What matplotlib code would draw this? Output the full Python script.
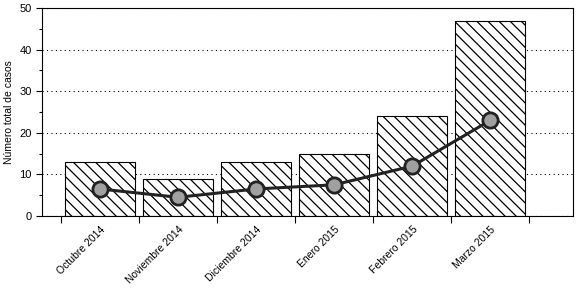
import matplotlib
matplotlib.use("Agg")
import matplotlib.pyplot as plt
import numpy as np

# data
months = ["Octubre 2014", "Noviembre 2014", "Diciembre 2014",
          "Enero 2015", "Febrero 2015", "Marzo 2015"]
total_cases = [13, 9, 13, 15, 24, 47]
line_values = [6.5, 4.5, 6.5, 7.5, 12, 23]

plt.rcParams["font.family"] = ["Liberation Sans", "DejaVu Sans"]
plt.rcParams["hatch.linewidth"] = 0.9

fig = plt.figure(figsize=(5.76, 2.88), dpi=100)
ax = fig.add_axes([0.073, 0.25, 0.922, 0.722])

x = np.arange(len(months))
ax.bar(x, total_cases, width=0.9, color="white", edgecolor="black",
       linewidth=0.8, hatch="\\\\\\", zorder=2)
ax.plot(x, line_values, color="#222222", linewidth=2.2, marker="o",
        markersize=11, markerfacecolor="#a0a0a0", markeredgecolor="#222222",
        markeredgewidth=2, zorder=3)

ax.set_ylim(0, 50)
ax.set_xlim(-0.74, 6.06)
ax.set_yticks([0, 10, 20, 30, 40, 50])
ax.set_yticks(np.arange(5, 50, 10), minor=True)
ax.yaxis.grid(True, linestyle=(0, (1, 3)), color="black", linewidth=0.8, zorder=0)
ax.set_axisbelow(True)

# ticks sit between the bars, labels under the bar centres
ax.set_xticks(np.arange(-0.5, 6, 1))
ax.set_xticklabels([])
ax.set_xticks(x, minor=True)
ax.set_xticklabels(months, minor=True, rotation=45, ha="right",
                   rotation_mode="anchor", fontsize=7.5)
ax.tick_params(axis="x", which="minor", length=0, pad=6)
ax.tick_params(axis="x", which="major", length=5, width=0.8)
ax.tick_params(axis="y", which="major", length=4, width=0.8, labelsize=8)
ax.tick_params(axis="y", which="minor", length=2.5, width=0.8)
ax.set_ylabel("Número total de casos", fontsize=7.5)

for s in ax.spines.values():
    s.set_linewidth(0.8)

fig.savefig("out.png", dpi=100)
